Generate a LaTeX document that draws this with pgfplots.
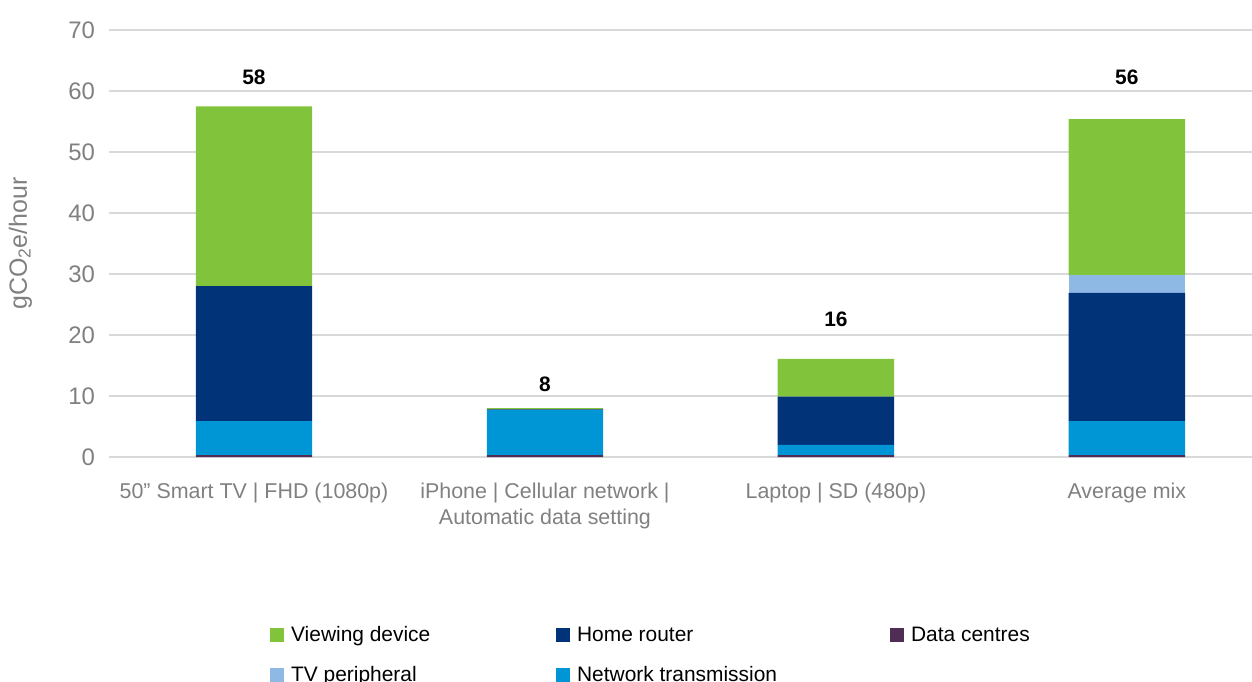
\documentclass[border=0pt]{standalone}
\usepackage{pgfplots}
\pgfplotsset{compat=1.18}
\usepackage{fontspec}
\setmainfont{Liberation Sans}
\definecolor{cVD}{RGB}{130,195,60}
\definecolor{cHR}{RGB}{0,51,120}
\definecolor{cDC}{RGB}{80,45,85}
\definecolor{cTV}{RGB}{143,185,229}
\definecolor{cNT}{RGB}{0,150,214}
\definecolor{tgray}{RGB}{128,128,128}
\definecolor{ggray}{RGB}{217,217,217}
\pgfplotsset{sqleg/.style={legend image code/.code={\path[##1, draw=none] (0bp,-7bp) rectangle (14bp,7bp);}}}
\begin{document}
\begin{tikzpicture}
\path[use as bounding box] (0,0) rectangle (1252bp,682bp);
\begin{axis}[
  at={(108.5bp,225bp)}, anchor=south west,
  scale only axis, width=1143.5bp, height=427bp,
  xmin=-0.5, xmax=3.43, ymin=0, ymax=70,
  ybar stacked, bar width=0.4,
  xtick={0,1,2,3},
  xticklabels={{50” Smart TV | FHD (1080p)},{iPhone | Cellular network |\\Automatic data setting},{Laptop | SD (480p)},{Average mix}},
  ytick={0,10,...,70},
  ymajorgrids, major grid style={color=ggray, line width=1.6bp},
  axis line style={draw=none}, tick style={draw=none},
  /pgf/number format/assume math mode=true,
  yticklabel style={text=tgray, font=\fontsize{24}{28}\selectfont, xshift=-10bp},
  xticklabel style={text=tgray, font=\fontsize{21.5}{27}\selectfont, align=center, anchor=north, yshift=-22bp},
  ylabel={gCO\textsubscript{2}e/hour},
  ylabel style={text=tgray, font=\fontsize{25}{30}\selectfont, at={(axis description cs:-0.077,0.5)}, anchor=center, rotate=0},
  legend columns=3,
  legend style={draw=none, fill=none, inner sep=0pt, at={(0.1412,-0.392)}, anchor=north west,
    font=\fontsize{21}{25}\selectfont, row sep=19bp,
    /tikz/every odd column/.append style={column sep=5bp},
    /tikz/every even column/.append style={column sep=0bp}},
  legend cell align=left,
]
\addlegendimage{sqleg, fill=cVD}\addlegendentry{\makebox[263bp][l]{Viewing device}}
\addlegendimage{sqleg, fill=cHR}\addlegendentry{\makebox[311bp][l]{Home router}}
\addlegendimage{sqleg, fill=cDC}\addlegendentry{Data centres}
\addlegendimage{sqleg, fill=cTV}\addlegendentry{\makebox[263bp][l]{TV peripheral}}
\addlegendimage{sqleg, fill=cNT}\addlegendentry{\makebox[311bp][l]{Network transmission}}
% stacked bottom to top
\addplot[fill=cDC, draw=none, forget plot] coordinates {(0,0.3) (1,0.3) (2,0.3) (3,0.3)};
\addplot[fill=cNT, draw=none, forget plot] coordinates {(0,5.6) (1,7.4) (2,1.7) (3,5.6)};
\addplot[fill=cHR, draw=none, forget plot] coordinates {(0,22.1) (1,0.1) (2,7.9) (3,21.0)};
\addplot[fill=cTV, draw=none, forget plot] coordinates {(0,0) (1,0) (2,0) (3,2.9)};
\addplot[fill=cVD, draw=none, forget plot] coordinates {(0,29.5) (1,0.2) (2,6.2) (3,25.6)};
\node[font=\bfseries\fontsize{21}{25}\selectfont] at (axis cs:0,62.3) {58};
\node[font=\bfseries\fontsize{21}{25}\selectfont] at (axis cs:1,12.0) {8};
\node[font=\bfseries\fontsize{21}{25}\selectfont] at (axis cs:2,22.5) {16};
\node[font=\bfseries\fontsize{21}{25}\selectfont] at (axis cs:3,62.3) {56};
\end{axis}
\end{tikzpicture}
\end{document}
